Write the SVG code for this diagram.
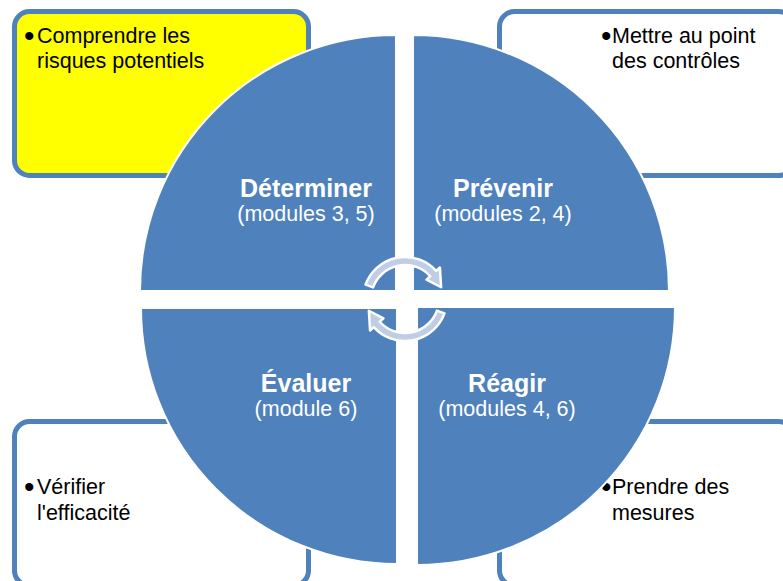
<svg xmlns="http://www.w3.org/2000/svg" width="783" height="581" viewBox="0 0 783 581">
<style>
.box{stroke:#4F81BD;stroke-width:5;}
.bt{font-family:"Liberation Sans",Arial,sans-serif;font-size:21.5px;fill:#000;}
.bu{font-size:30px;}
.q{fill:#4F81BD;stroke:#fff;stroke-width:2;}
.tt{font-family:"Liberation Sans",Arial,sans-serif;font-size:25px;font-weight:bold;fill:#fff;text-anchor:middle;}
.st{font-family:"Liberation Sans",Arial,sans-serif;font-size:21.5px;fill:#fff;text-anchor:middle;}
.arr{fill:#BFCDE5;stroke:#fff;stroke-width:2.5;stroke-linejoin:round;}
</style>
<rect width="783" height="581" fill="#fff"/>
<g id="box-tl">
<rect class="box" x="14.5" y="11.5" width="294" height="164" rx="15" fill="#FFFF00"/>
<text class="bt"><tspan class="bu" x="24" y="46">•</tspan><tspan x="37" y="43">Comprendre les</tspan><tspan x="37" y="68">risques potentiels</tspan></text>
</g>
<g id="box-tr">
<rect class="box" x="499.5" y="11.5" width="294" height="164" rx="15" fill="#fff"/>
<text class="bt"><tspan class="bu" x="601" y="46">•</tspan><tspan x="612" y="43">Mettre au point</tspan><tspan x="612" y="68">des contrôles</tspan></text>
</g>
<g id="box-bl">
<rect class="box" x="14.5" y="421.5" width="294" height="164" rx="15" fill="#fff"/>
<text class="bt"><tspan class="bu" x="24" y="497">•</tspan><tspan x="37" y="494">Vérifier</tspan><tspan x="37" y="520">l'efficacité</tspan></text>
</g>
<g id="box-br">
<rect class="box" x="499.5" y="421.5" width="294" height="164" rx="15" fill="#fff"/>
<text class="bt"><tspan class="bu" x="601" y="497">•</tspan><tspan x="612" y="494">Prendre des</tspan><tspan x="612" y="520">mesures</tspan></text>
</g>
<g id="q-determiner">
<path class="q" d="M396,291 L140,291 A256,256 0 0 1 396,35 Z"/>
<text class="tt" x="306" y="197">Déterminer</text>
<text class="st" x="306" y="221">(modules 3, 5)</text>
</g>
<g id="q-prevenir">
<path class="q" d="M413,291 L413,35 A256,256 0 0 1 669,291 Z"/>
<text class="tt" x="503" y="197">Prévenir</text>
<text class="st" x="503" y="221">(modules 2, 4)</text>
</g>
<g id="q-evaluer">
<path class="q" d="M397,308 L397,564 A256,256 0 0 1 141,308 Z"/>
<text class="tt" x="306" y="392">Évaluer</text>
<text class="st" x="306" y="416">(module 6)</text>
</g>
<g id="q-reagir">
<path class="q" d="M417,307 L675,307 A258,258 0 0 1 417,565 Z"/>
<text class="tt" x="507" y="392">Réagir</text>
<text class="st" x="507" y="416">(modules 4, 6)</text>
</g>
<g id="connectors">
<path class="arr" d="M365.53,284.64 A42,42 0 0 1 436.21,270.90 L439.93,267.55 L441.14,287.26 L426.55,279.60 L430.27,276.25 A34,34 0 0 0 373.05,287.37 Z"/>
<path class="arr" transform="rotate(180 405 299)" d="M365.53,284.64 A42,42 0 0 1 436.21,270.90 L439.93,267.55 L441.14,287.26 L426.55,279.60 L430.27,276.25 A34,34 0 0 0 373.05,287.37 Z"/>
</g>
</svg>
